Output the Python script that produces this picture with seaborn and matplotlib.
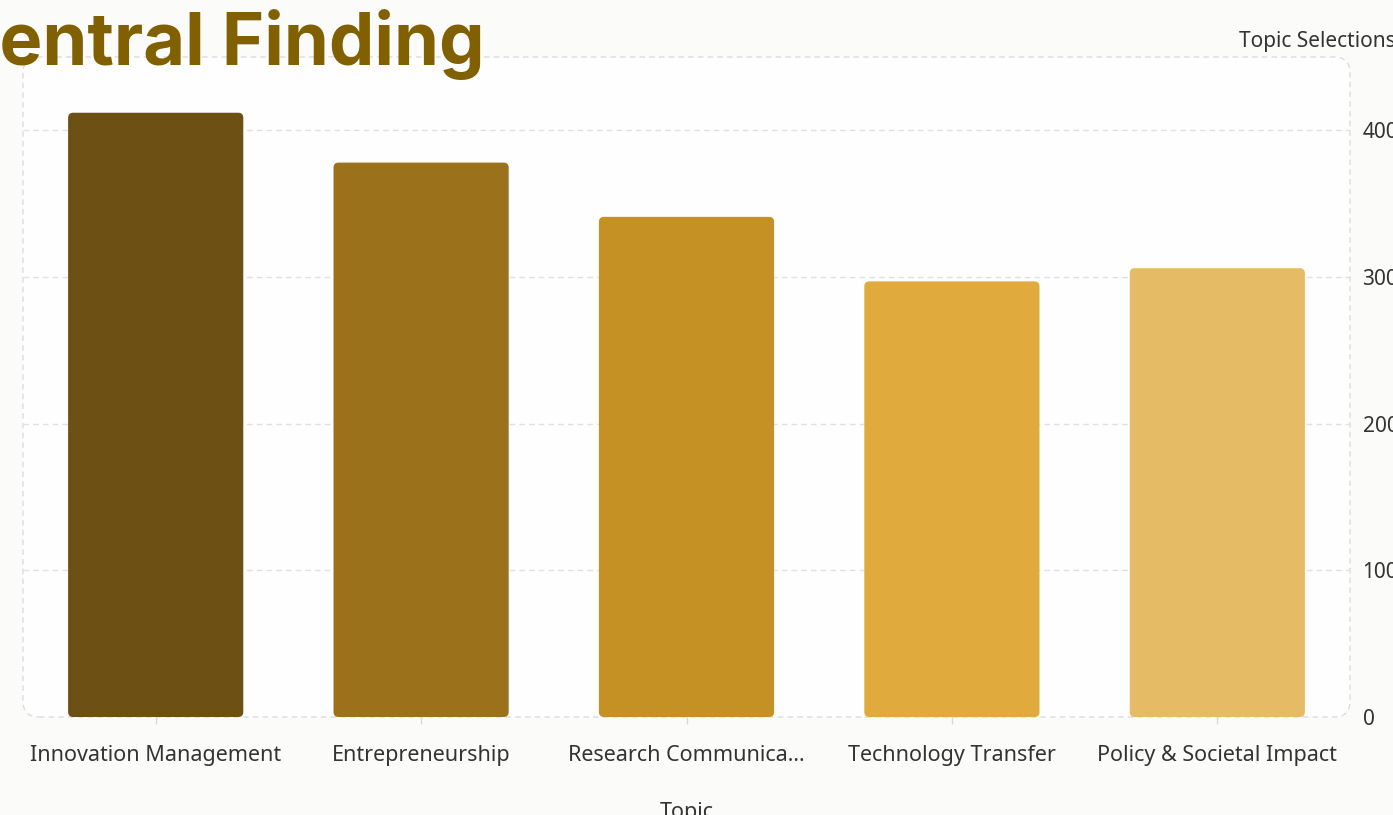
import matplotlib
matplotlib.use("Agg")
import matplotlib.pyplot as plt
import seaborn as sns
import pandas as pd
from matplotlib.patches import FancyBboxPatch

categories = ["Innovation Management", "Entrepreneurship", "Research Communica...",
              "Technology Transfer", "Policy & Societal Impact"]
values = [412, 378, 341, 297, 306]
colors = ["#6d5014", "#9b711b", "#c59024", "#e0aa3c", "#e5bb66"]
y_ticks = [0, 100, 200, 300, 400]

df = pd.DataFrame({"Topic": categories, "Topic Selections": values})

sns.set_theme(style="white")
plt.rcParams["font.family"] = ["Noto Sans", "DejaVu Sans"]

W, H = 1393, 815
fig = plt.figure(figsize=(W / 100, H / 100), dpi=100)
fig.patch.set_facecolor("#fbfbfa")
ax = fig.add_axes([23 / W, (H - 717) / H, 1327 / W, 660 / H])
ax.set_facecolor("none")

sns.barplot(data=df, x="Topic", y="Topic Selections", hue="Topic",
            palette=colors, saturation=1, width=0.66, legend=False, ax=ax, zorder=3)

ax.set_ylim(0, 450)
ax.set_xlim(-0.5, 4.5)

# rounded bars
px_x = 1327 / 5.0
px_y = 660 / 450.0
aspect = px_x / px_y
r = 5 / px_x
for p in list(ax.patches):
    x, y = p.get_x(), p.get_y()
    w, h = p.get_width(), p.get_height()
    fc = p.get_facecolor()
    p.remove()
    fb = FancyBboxPatch((x, y), w, h, boxstyle=f"round,pad=0,rounding_size={r}",
                        mutation_aspect=aspect, facecolor=fc, edgecolor="none", zorder=3)
    ax.add_patch(fb)

# rounded dashed frame
frame = FancyBboxPatch((0, 0), 1, 1, boxstyle="round,pad=0,rounding_size=0.012",
                       mutation_aspect=1327 / 660, transform=ax.transAxes,
                       facecolor="#fefefe", edgecolor="#dcdcdc", linestyle=(0, (4, 3)),
                       linewidth=1.0, zorder=0, clip_on=False)
ax.add_patch(frame)

for t in y_ticks[1:]:
    ax.axhline(t, color="#e0e0e0", linestyle=(0, (4, 3)), linewidth=1.0, zorder=1)

for s in ax.spines.values():
    s.set_visible(False)

ax.yaxis.tick_right()
ax.set_yticks(y_ticks)
ax.set_yticklabels([str(v) for v in y_ticks])
ax.tick_params(axis="y", length=0, pad=9, labelsize=15, labelcolor="#333333")
ax.tick_params(axis="x", length=5, width=1, color="#d8d8d8", pad=15,
               labelsize=15.5, labelcolor="#333333", bottom=True)
ax.set_xlabel("Topic", fontsize=15.5, color="#333333", labelpad=26)
ax.set_ylabel("")

fig.text(1239 / W, (H - 47) / H, "Topic Selections", fontsize=15, color="#333333",
         ha="left", va="baseline")

fig.text(485 / W, (H - 65) / H, "Central Finding", fontsize=52, fontweight="bold",
         color="#806000", ha="right", va="baseline", family=["Inter", "DejaVu Sans"])

fig.savefig("out.png", dpi=100, facecolor=fig.get_facecolor())
